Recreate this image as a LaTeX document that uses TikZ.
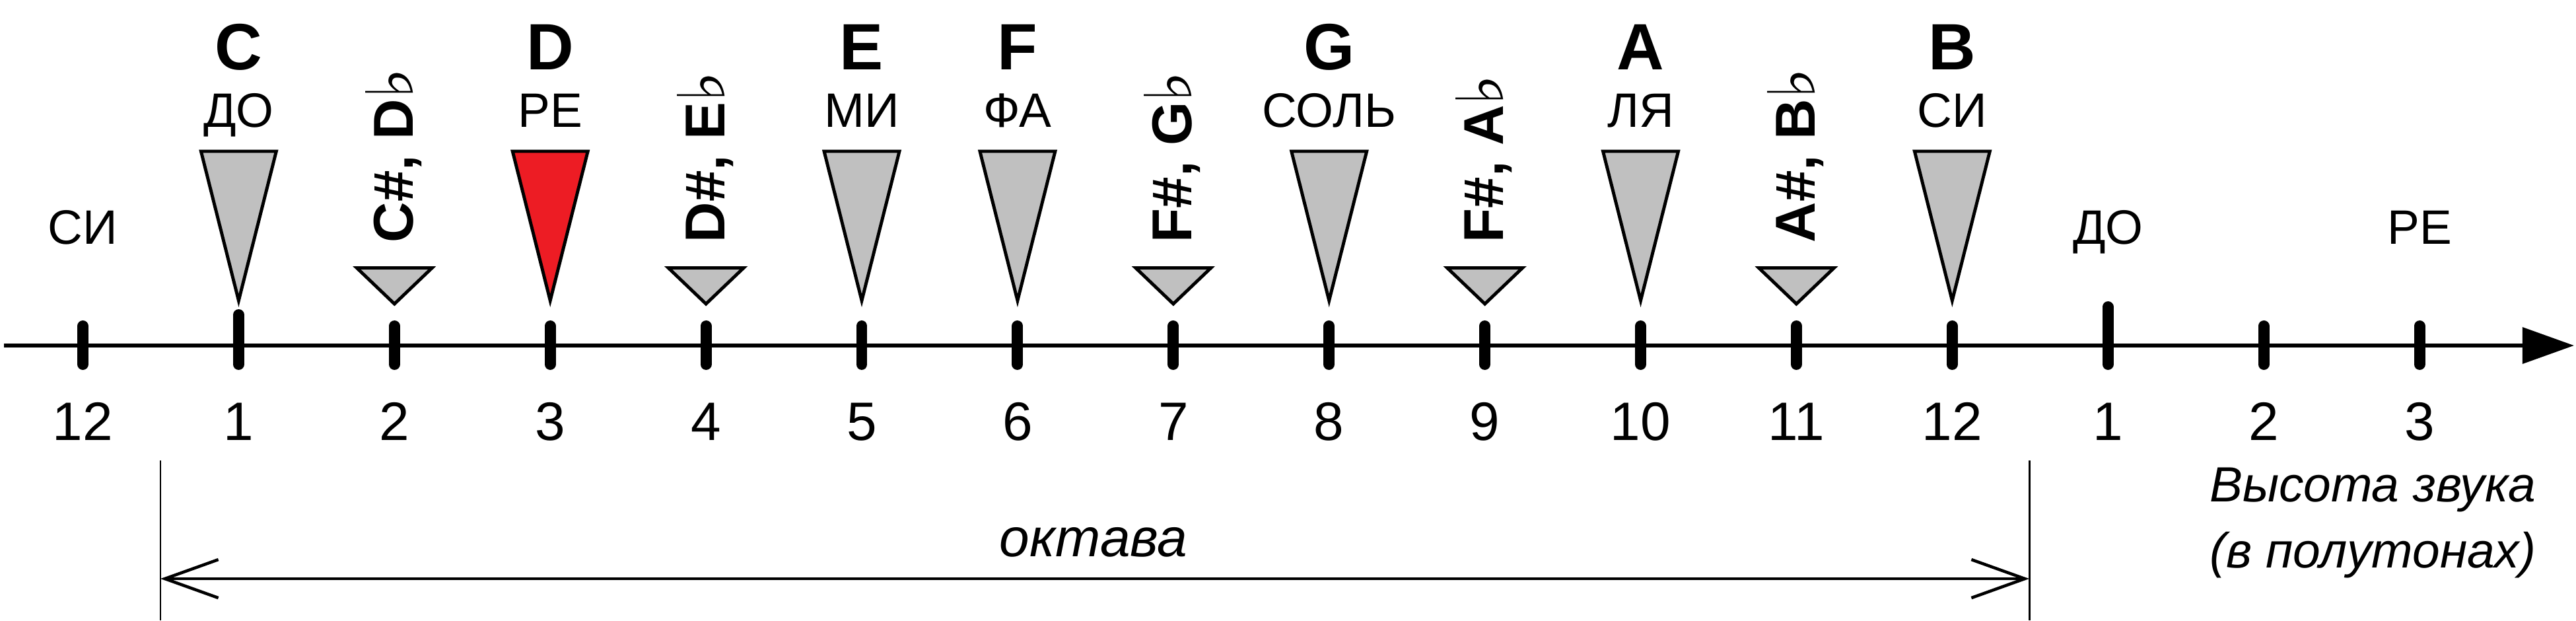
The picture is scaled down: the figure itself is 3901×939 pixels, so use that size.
\documentclass[tikz,border=0pt]{standalone}
\usepackage{fontspec}
\setmainfont{Liberation Sans}
\newfontfamily\symfont{DejaVu Sans}
\usetikzlibrary{arrows.meta}
\definecolor{keygray}{RGB}{192,192,192}
\definecolor{keyred}{RGB}{237,28,36}
\newcommand{\flt}{{\symfont\bfseries\fontsize{28}{28}\selectfont\char"266D}}

\begin{document}
\begin{tikzpicture}[x=0.01cm,y=-0.01cm,
  axtick/.style={line width=4.8pt,line cap=round},
  wedge/.style={draw,line width=1.4pt,fill=keygray},
  note/.style={font=\fontsize{28.2}{30}\bfseries\selectfont,inner sep=0pt,anchor=base},
  rusname/.style={font=\fontsize{20.8}{24}\selectfont,inner sep=0pt,anchor=base},
  accid/.style={font=\fontsize{24.2}{26}\bfseries\selectfont,inner sep=0pt,rotate=90,anchor=base west},
  num/.style={font=\fontsize{23.3}{26}\selectfont,inner sep=0pt,anchor=base}]
  \useasboundingbox (0,0) rectangle (3901,939);

  % axis with ticks
  \coordinate (axstart) at (6,523);
  \coordinate (axend) at (3898,523);
  \draw[line width=1.7pt,-{Triangle[length=22.2pt,width=15.4pt]}] (axstart) -- (axend);
  \foreach \k in {0,2,3,4,5,6,7,8,9,10,11,12,14,15}
    \draw[axtick] ({125.5+235.9*\k},493.5) -- ({125.5+235.9*\k},551.5);
  \draw[axtick] ({125.5+235.9},476.5) -- ({125.5+235.9},551.5);
  \draw[axtick] ({125.5+235.9*13},464.5) -- ({125.5+235.9*13},551.5);

  % white keys
  \foreach \k/\col in {1/keygray,3/keyred,5/keygray,6/keygray,8/keygray,10/keygray,12/keygray}
    \draw[wedge,fill=\col] ({125.5+235.9*\k-57},229) -- ({125.5+235.9*\k+57},229) -- ({125.5+235.9*\k},455) -- cycle;
  % black keys
  \foreach \k in {2,4,7,9,11}
    \draw[wedge] ({125.5+235.9*\k-57},405.5) -- ({125.5+235.9*\k+57},405.5) -- ({125.5+235.9*\k},460) -- cycle;

  \foreach \k/\n/\r in {1/C/ДО,3/D/РЕ,5/E/МИ,6/F/ФА,8/G/СОЛЬ,10/A/ЛЯ,12/B/СИ}{
    \node[note] (note\k) at ({125.5+235.9*\k},105) {\n};
    \node[rusname] (name\k) at ({125.5+235.9*\k},192) {\r};
  }
  \foreach \k/\t in {2/{C\#, D\flt},4/{D\#, E\flt},7/{F\#, G\flt},9/{F\#, A\flt},11/{A\#, B\flt}}
    \node[accid] (acc\k) at ({125.5+235.9*\k+28},368) {\t};

  \node[rusname] (prevsi) at (125.5,369) {СИ};
  \node[rusname] (nextdo) at ({125.5+235.9*13},369) {ДО};
  \node[rusname] (nextre) at ({125.5+235.9*15},369) {РЕ};

  \foreach \k/\n in {0/12,1/1,2/2,3/3,4/4,5/5,6/6,7/7,8/8,9/9,10/10,11/11,12/12,13/1,14/2,15/3}
    \node[num] (num\k) at ({125.5+235.9*\k},666) {\n};

  % octave span
  \coordinate (octLtop) at (243,697);
  \coordinate (octLbot) at (243,939);
  \coordinate (octRtop) at (3073,697);
  \coordinate (octRbot) at (3073,939);
  \coordinate (octL) at (243,876);
  \coordinate (octR) at (3073,876);
  \draw[line width=0.85pt] (octLtop) -- (octLbot);
  \draw[line width=0.85pt] (octRtop) -- (octRbot);
  \draw[line width=1.3pt,{Straight Barb[length=23pt,width=16.5pt]}-{Straight Barb[length=23pt,width=16.5pt]}] (octL) -- (octR);
  \node[font=\fontsize{23.3}{26}\itshape\selectfont,inner sep=0pt,anchor=base] (octlabel) at (1656,842) {октава};

  \node[font=\fontsize{21.3}{28.4}\itshape\selectfont,align=right,inner sep=0pt,anchor=north east] (axislabel) at (3841,707) {Высота звука\\(в полутонах)};
\end{tikzpicture}
\end{document}
